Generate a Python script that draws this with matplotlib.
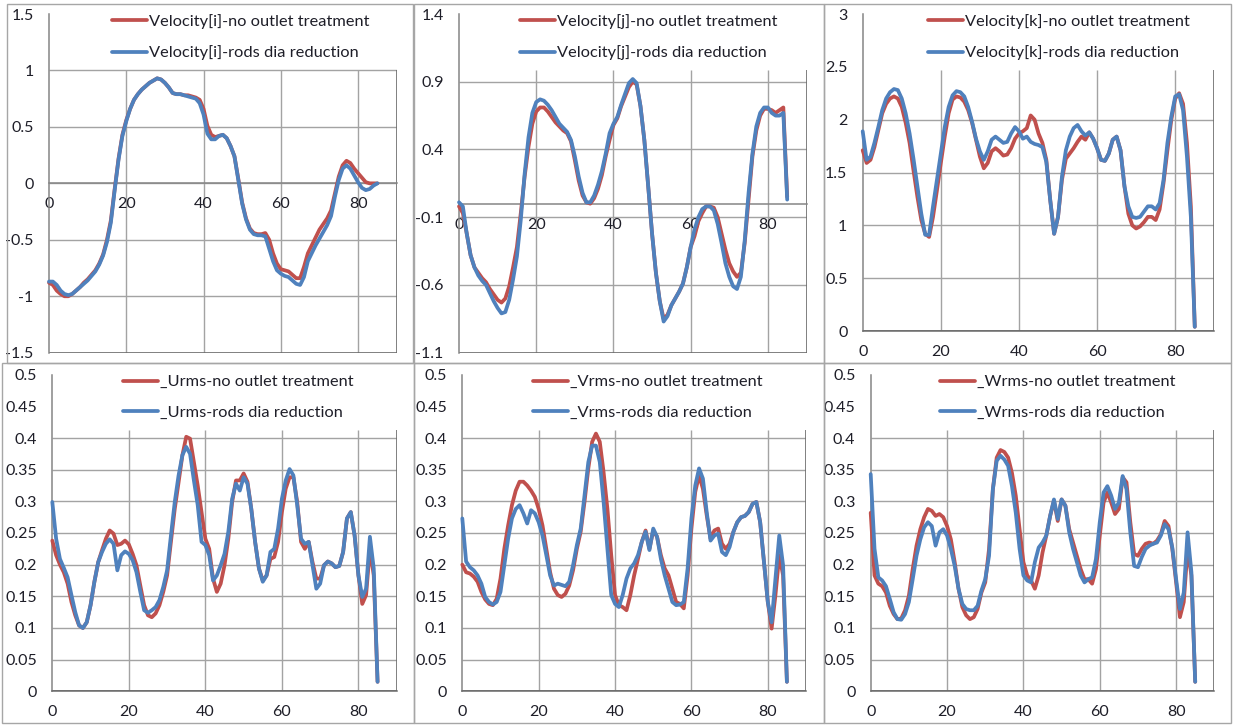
import numpy as np
import matplotlib
matplotlib.use("Agg")
import matplotlib.pyplot as plt
from matplotlib.patches import Rectangle

plt.rcParams['font.family'] = ['Lato', 'DejaVu Sans']

# ---------------- data ----------------
x_pos = list(range(86))

vel_i_red = [-0.88, -0.90, -0.95, -0.98, -1.00, -1.00, -0.98, -0.95, -0.92, -0.88,
             -0.85, -0.81, -0.77, -0.71, -0.63, -0.50, -0.33, -0.05, 0.22, 0.43,
             0.56, 0.66, 0.74, 0.79, 0.83, 0.86, 0.89, 0.91, 0.93, 0.92,
             0.89, 0.85, 0.80, 0.79, 0.79, 0.78, 0.78, 0.77, 0.76, 0.74,
             0.66, 0.51, 0.43, 0.41, 0.42, 0.43, 0.40, 0.33, 0.24, 0.04,
             -0.17, -0.31, -0.40, -0.44, -0.45, -0.45, -0.44, -0.50, -0.62, -0.71,
             -0.76, -0.77, -0.78, -0.81, -0.84, -0.84, -0.74, -0.62, -0.55, -0.48,
             -0.41, -0.36, -0.31, -0.24, -0.09, 0.06, 0.16, 0.20, 0.18, 0.13,
             0.09, 0.05, 0.01, 0.00, 0.00, 0.00]
vel_i_blue = [-0.87, -0.87, -0.90, -0.95, -0.98, -0.99, -0.98, -0.95, -0.92, -0.89,
              -0.86, -0.82, -0.78, -0.72, -0.64, -0.52, -0.35, -0.06, 0.21, 0.42,
              0.55, 0.66, 0.74, 0.79, 0.83, 0.86, 0.89, 0.91, 0.93, 0.92,
              0.89, 0.85, 0.80, 0.79, 0.79, 0.78, 0.77, 0.76, 0.75, 0.71,
              0.61, 0.44, 0.39, 0.39, 0.42, 0.43, 0.40, 0.33, 0.24, 0.03,
              -0.18, -0.32, -0.41, -0.45, -0.46, -0.46, -0.47, -0.58, -0.69, -0.77,
              -0.80, -0.82, -0.83, -0.86, -0.89, -0.90, -0.83, -0.69, -0.62, -0.55,
              -0.49, -0.43, -0.37, -0.29, -0.12, 0.03, 0.13, 0.16, 0.13, 0.07,
              0.01, -0.04, -0.06, -0.05, -0.02, 0.00]

vel_j_red = [-0.02, -0.07, -0.22, -0.38, -0.47, -0.51, -0.55, -0.58, -0.63, -0.67,
             -0.71, -0.73, -0.70, -0.61, -0.47, -0.32, -0.07, 0.20, 0.42, 0.59,
             0.68, 0.71, 0.71, 0.68, 0.64, 0.60, 0.57, 0.54, 0.52, 0.46,
             0.32, 0.17, 0.06, 0.01, 0.00, 0.04, 0.11, 0.21, 0.35, 0.47,
             0.58, 0.63, 0.72, 0.79, 0.86, 0.90, 0.88, 0.72, 0.47, 0.13,
             -0.22, -0.51, -0.72, -0.85, -0.82, -0.75, -0.70, -0.65, -0.59, -0.47,
             -0.32, -0.24, -0.13, -0.07, -0.02, -0.02, -0.03, -0.10, -0.22, -0.34,
             -0.44, -0.50, -0.54, -0.51, -0.29, 0.03, 0.35, 0.54, 0.65, 0.70,
             0.70, 0.69, 0.67, 0.69, 0.71, 0.05]
vel_j_blue = [0.01, -0.02, -0.22, -0.38, -0.47, -0.53, -0.57, -0.60, -0.66, -0.72,
              -0.77, -0.81, -0.80, -0.71, -0.56, -0.39, -0.12, 0.22, 0.49, 0.67,
              0.75, 0.77, 0.76, 0.73, 0.69, 0.64, 0.59, 0.56, 0.53, 0.47,
              0.35, 0.20, 0.08, 0.01, 0.01, 0.06, 0.14, 0.24, 0.37, 0.52,
              0.59, 0.64, 0.73, 0.81, 0.89, 0.92, 0.89, 0.72, 0.47, 0.13,
              -0.22, -0.51, -0.72, -0.87, -0.83, -0.75, -0.70, -0.65, -0.59, -0.47,
              -0.32, -0.19, -0.10, -0.04, -0.02, -0.02, -0.05, -0.15, -0.29, -0.44,
              -0.54, -0.61, -0.63, -0.54, -0.27, 0.08, 0.37, 0.57, 0.67, 0.71,
              0.71, 0.67, 0.65, 0.65, 0.67, 0.03]

vel_k_red = [1.71, 1.59, 1.62, 1.74, 1.90, 2.06, 2.15, 2.20, 2.22, 2.20,
             2.12, 1.97, 1.78, 1.52, 1.27, 1.05, 0.92, 0.89, 1.08, 1.33,
             1.59, 1.84, 2.06, 2.19, 2.22, 2.21, 2.17, 2.09, 1.97, 1.81,
             1.65, 1.54, 1.59, 1.70, 1.73, 1.70, 1.66, 1.67, 1.73, 1.82,
             1.87, 1.89, 1.92, 2.04, 2.00, 1.87, 1.78, 1.62, 1.24, 0.92,
             1.08, 1.43, 1.63, 1.68, 1.73, 1.79, 1.84, 1.81, 1.88, 1.82,
             1.73, 1.62, 1.61, 1.68, 1.81, 1.84, 1.71, 1.37, 1.11, 1.00,
             0.97, 0.99, 1.03, 1.08, 1.08, 1.05, 1.15, 1.40, 1.71, 2.00,
             2.20, 2.25, 2.15, 1.78, 1.18, 0.04]
vel_k_blue = [1.89, 1.62, 1.65, 1.78, 1.93, 2.09, 2.20, 2.26, 2.29, 2.28,
              2.20, 2.06, 1.87, 1.63, 1.37, 1.11, 0.91, 0.91, 1.18, 1.43,
              1.68, 1.93, 2.12, 2.23, 2.27, 2.26, 2.22, 2.12, 1.98, 1.82,
              1.70, 1.62, 1.70, 1.81, 1.84, 1.81, 1.78, 1.79, 1.87, 1.93,
              1.89, 1.82, 1.84, 1.79, 1.77, 1.76, 1.74, 1.60, 1.24, 0.92,
              1.08, 1.46, 1.71, 1.84, 1.92, 1.95, 1.89, 1.85, 1.88, 1.82,
              1.73, 1.62, 1.61, 1.68, 1.81, 1.84, 1.71, 1.37, 1.18, 1.08,
              1.07, 1.08, 1.13, 1.18, 1.18, 1.15, 1.21, 1.43, 1.78, 2.03,
              2.22, 2.24, 2.09, 1.65, 1.08, 0.04]

urms_red = [0.238, 0.215, 0.200, 0.188, 0.170, 0.141, 0.120, 0.104, 0.100, 0.109,
            0.136, 0.173, 0.204, 0.223, 0.241, 0.254, 0.249, 0.231, 0.233, 0.238,
            0.232, 0.217, 0.199, 0.167, 0.136, 0.120, 0.117, 0.123, 0.136, 0.157,
            0.183, 0.236, 0.288, 0.330, 0.373, 0.402, 0.399, 0.362, 0.325, 0.283,
            0.241, 0.225, 0.178, 0.157, 0.170, 0.199, 0.241, 0.299, 0.333, 0.333,
            0.344, 0.331, 0.288, 0.236, 0.194, 0.175, 0.183, 0.209, 0.212, 0.236,
            0.283, 0.320, 0.338, 0.338, 0.299, 0.236, 0.225, 0.236, 0.204, 0.178,
            0.178, 0.199, 0.205, 0.202, 0.196, 0.198, 0.220, 0.273, 0.283, 0.246,
            0.183, 0.138, 0.152, 0.225, 0.183, 0.015]
urms_blue = [0.299, 0.241, 0.209, 0.195, 0.180, 0.152, 0.125, 0.104, 0.100, 0.109,
             0.136, 0.173, 0.204, 0.220, 0.233, 0.240, 0.233, 0.191, 0.215, 0.221,
             0.217, 0.207, 0.188, 0.157, 0.128, 0.124, 0.128, 0.133, 0.144, 0.165,
             0.191, 0.246, 0.299, 0.341, 0.373, 0.386, 0.375, 0.333, 0.294, 0.236,
             0.231, 0.215, 0.175, 0.183, 0.199, 0.217, 0.252, 0.304, 0.328, 0.317,
             0.338, 0.328, 0.288, 0.236, 0.194, 0.173, 0.183, 0.220, 0.225, 0.257,
             0.304, 0.333, 0.351, 0.341, 0.294, 0.241, 0.233, 0.236, 0.199, 0.162,
             0.170, 0.199, 0.205, 0.202, 0.196, 0.198, 0.220, 0.273, 0.283, 0.246,
             0.183, 0.149, 0.162, 0.244, 0.194, 0.015]

vrms_red = [0.200, 0.188, 0.186, 0.181, 0.173, 0.157, 0.145, 0.138, 0.136, 0.146,
            0.178, 0.225, 0.262, 0.294, 0.317, 0.331, 0.331, 0.325, 0.317, 0.307,
            0.288, 0.262, 0.225, 0.188, 0.162, 0.152, 0.149, 0.154, 0.167, 0.191,
            0.225, 0.252, 0.299, 0.352, 0.394, 0.407, 0.394, 0.346, 0.288, 0.215,
            0.152, 0.136, 0.133, 0.128, 0.152, 0.183, 0.209, 0.236, 0.254, 0.225,
            0.254, 0.244, 0.215, 0.194, 0.183, 0.162, 0.141, 0.138, 0.131, 0.183,
            0.257, 0.315, 0.341, 0.320, 0.278, 0.241, 0.254, 0.257, 0.233, 0.225,
            0.233, 0.252, 0.267, 0.275, 0.277, 0.283, 0.296, 0.299, 0.267, 0.204,
            0.141, 0.099, 0.152, 0.215, 0.183, 0.015]
vrms_blue = [0.273, 0.205, 0.196, 0.191, 0.183, 0.170, 0.149, 0.141, 0.137, 0.141,
             0.157, 0.199, 0.241, 0.273, 0.288, 0.294, 0.281, 0.265, 0.286, 0.281,
             0.267, 0.246, 0.215, 0.183, 0.167, 0.170, 0.168, 0.166, 0.173, 0.199,
             0.231, 0.257, 0.309, 0.362, 0.388, 0.388, 0.362, 0.299, 0.225, 0.152,
             0.138, 0.133, 0.152, 0.178, 0.194, 0.202, 0.215, 0.236, 0.252, 0.223,
             0.257, 0.244, 0.209, 0.183, 0.162, 0.141, 0.136, 0.137, 0.141, 0.194,
             0.273, 0.325, 0.352, 0.336, 0.283, 0.238, 0.246, 0.249, 0.220, 0.215,
             0.228, 0.252, 0.267, 0.275, 0.277, 0.283, 0.296, 0.299, 0.267, 0.204,
             0.141, 0.109, 0.178, 0.246, 0.199, 0.015]

wrms_red = [0.282, 0.183, 0.170, 0.166, 0.156, 0.135, 0.122, 0.114, 0.115, 0.128,
            0.151, 0.193, 0.230, 0.256, 0.275, 0.288, 0.285, 0.277, 0.280, 0.275,
            0.261, 0.240, 0.204, 0.162, 0.133, 0.120, 0.114, 0.117, 0.130, 0.156,
            0.172, 0.225, 0.319, 0.369, 0.381, 0.378, 0.369, 0.345, 0.309, 0.256,
            0.204, 0.183, 0.175, 0.162, 0.183, 0.219, 0.246, 0.277, 0.301, 0.269,
            0.303, 0.293, 0.256, 0.235, 0.214, 0.193, 0.177, 0.177, 0.170, 0.193,
            0.246, 0.298, 0.314, 0.298, 0.280, 0.288, 0.338, 0.330, 0.267, 0.217,
            0.214, 0.225, 0.233, 0.235, 0.233, 0.238, 0.248, 0.269, 0.261, 0.225,
            0.172, 0.117, 0.141, 0.225, 0.183, 0.015]
wrms_blue = [0.343, 0.225, 0.180, 0.175, 0.166, 0.146, 0.125, 0.114, 0.113, 0.122,
             0.141, 0.177, 0.214, 0.240, 0.259, 0.267, 0.261, 0.230, 0.251, 0.256,
             0.246, 0.225, 0.198, 0.162, 0.138, 0.130, 0.128, 0.128, 0.135, 0.159,
             0.177, 0.214, 0.319, 0.364, 0.372, 0.366, 0.356, 0.324, 0.282, 0.225,
             0.183, 0.175, 0.172, 0.204, 0.227, 0.235, 0.246, 0.277, 0.303, 0.272,
             0.303, 0.293, 0.251, 0.225, 0.204, 0.183, 0.172, 0.177, 0.180, 0.209,
             0.267, 0.314, 0.324, 0.309, 0.288, 0.298, 0.340, 0.319, 0.251, 0.198,
             0.196, 0.212, 0.225, 0.230, 0.233, 0.235, 0.246, 0.264, 0.256, 0.227,
             0.177, 0.130, 0.156, 0.251, 0.188, 0.015]

labels_red = ["Velocity[i]-no outlet treatment", "Velocity[j]-no outlet treatment",
              "Velocity[k]-no outlet treatment", "_Urms-no outlet treatment",
              "_Vrms-no outlet treatment", "_Wrms-no outlet treatment"]
labels_blue = ["Velocity[i]-rods dia reduction", "Velocity[j]-rods dia reduction",
               "Velocity[k]-rods dia reduction", "_Urms-rods dia reduction",
               "_Vrms-rods dia reduction", "_Wrms-rods dia reduction"]

x_ticks = [0, 20, 40, 60, 80]
y_ticks_list = [
    [-1.5, -1.0, -0.5, 0.0, 0.5, 1.0, 1.5],
    [-1.1, -0.6, -0.1, 0.4, 0.9, 1.4],
    [0.0, 0.5, 1.0, 1.5, 2.0, 2.5, 3.0],
    [0, 0.05, 0.1, 0.15, 0.2, 0.25, 0.3, 0.35, 0.4, 0.45, 0.5],
    [0, 0.05, 0.1, 0.15, 0.2, 0.25, 0.3, 0.35, 0.4, 0.45, 0.5],
    [0, 0.05, 0.1, 0.15, 0.2, 0.25, 0.3, 0.35, 0.4, 0.45, 0.5],
]
series = [(vel_i_red, vel_i_blue), (vel_j_red, vel_j_blue), (vel_k_red, vel_k_blue),
          (urms_red, urms_blue), (vrms_red, vrms_blue), (wrms_red, wrms_blue)]

# ---------------- layout (pixels) ----------------
W, H = 1233, 725
RED = '#C0504D'
BLUE = '#4F81BD'
GRID = '#A3A3A3'
BORDER = '#6B6B6B'
TXT = '#1E1E28'

# (left, right, top, bottom, xaxis_y, plot-area-top value, legend x, legend row1 y)
panels = [
    (49.0, 396.7, 14.0, 352.7, 0.0, 1.0, 112, 20.7),
    (459.0, 806.5, 14.0, 352.7, 0.0, 0.99, 520, 20.7),
    (862.7, 1214.3, 14.0, 331.0, None, 2.47, 928, 20.7),
    (52.3, 396.7, 374.7, 691.3, None, 0.412, 123, 381.3),
    (462.3, 806.0, 374.7, 691.3, None, 0.412, 533, 381.3),
    (870.7, 1214.3, 374.7, 691.3, None, 0.412, 940, 381.3),
]

fig = plt.figure(figsize=(W / 100, H / 100), dpi=100)
fig.patch.set_facecolor('white')

# panel frames
for (l, t, r, b) in [(7, 4, 413, 363), (414, 4, 824, 363), (824, 4, 1231, 363),
                     (2, 363, 414, 723), (414, 363, 824, 723), (824, 363, 1231, 723)]:
    fig.add_artist(Rectangle((l / W, 1 - b / H), (r - l) / W, (b - t) / H,
                             transform=fig.transFigure, fill=False,
                             edgecolor='#A6A6A6', linewidth=1.0))

def fmt(v):
    s = ('%.2f' % v).rstrip('0').rstrip('.')
    return '0' if s in ('-0', '') else s

for i, (l, r, t, b, xaxis_y, top_val, lgx, lgy) in enumerate(panels):
    ax = fig.add_axes([l / W, 1 - b / H, (r - l) / W, (b - t) / H])
    yt = y_ticks_list[i]
    ymin, ymax = yt[0], yt[-1]
    ax.set_xlim(0, 90)
    ax.set_ylim(ymin, ymax)
    ax.set_facecolor('none')

    # gridlines restricted to the visible plot area (legend covers the top)
    ax.hlines([v for v in yt if v <= top_val + 1e-9 and v > ymin], 0, 90,
              colors=GRID, linewidth=1.0, zorder=1)
    ax.vlines(x_ticks[1:], ymin, top_val, colors=GRID, linewidth=1.0, zorder=1)
    # plot-area border (right and bottom)
    ax.vlines([90], ymin, top_val, colors=BORDER, linewidth=1.2, zorder=2)
    ax.hlines([ymin], 0, 90, colors=BORDER, linewidth=1.2, zorder=2)

    for s in ['top', 'right']:
        ax.spines[s].set_visible(False)
    ax.spines['left'].set_color('#858585')
    ax.spines['left'].set_linewidth(1.1)
    ax.spines['bottom'].set_color('#858585' if xaxis_y is not None else BORDER)
    ax.spines['bottom'].set_linewidth(1.1)
    if xaxis_y is not None:
        ax.spines['bottom'].set_position(('data', xaxis_y))

    ax.set_xticks(x_ticks)
    ax.set_xticklabels([str(v) for v in x_ticks])
    ax.set_yticks(yt)
    ax.set_yticklabels([fmt(v) for v in yt])
    ax.tick_params(axis='x', length=0, pad=10.0, labelsize=11.5, labelcolor=TXT)
    ax.tick_params(axis='y', length=0, pad=11.0, labelsize=11.5, labelcolor=TXT)

    red_vals, blue_vals = series[i]
    lr, = ax.plot(x_pos, red_vals, color=RED, linewidth=2.7, zorder=4,
                  solid_joinstyle='round', solid_capstyle='round', clip_on=False)
    lb, = ax.plot(x_pos, blue_vals, color=BLUE, linewidth=2.7, zorder=5,
                  solid_joinstyle='round', solid_capstyle='round', clip_on=False)

    ax.legend([lr, lb], [labels_red[i], labels_blue[i]], loc='upper left',
              bbox_to_anchor=(lgx / W, 1 - (lgy - 6.5) / H),
              bbox_transform=fig.transFigure, frameon=False, borderpad=0,
              borderaxespad=0, handlelength=2.15, handletextpad=0.12,
              labelspacing=1.0, fontsize=11.8, labelcolor=TXT)

fig.savefig('out.png', dpi=100, facecolor='white')
